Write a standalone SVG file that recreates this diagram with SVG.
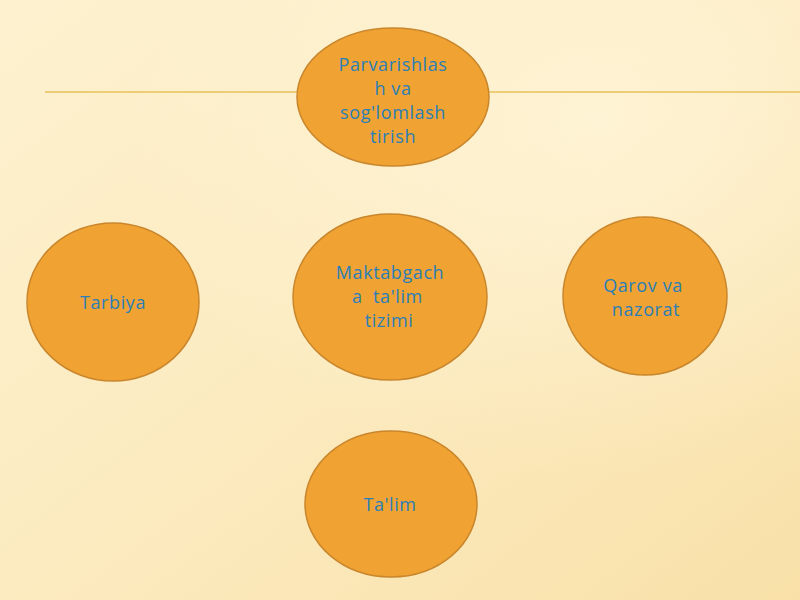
<svg xmlns="http://www.w3.org/2000/svg" width="800" height="600" viewBox="0 0 800 600">
<defs>
<linearGradient id="bg" x1="0" y1="0" x2="1" y2="1">
<stop offset="0" stop-color="#FDF1CF"/>
<stop offset="0.5" stop-color="#FCEBC0"/>
<stop offset="1" stop-color="#F8E0A8"/>
</linearGradient>
<radialGradient id="glow" cx="0.75" cy="0.2" r="0.6">
<stop offset="0" stop-color="#FFF6DC" stop-opacity="0.7"/>
<stop offset="1" stop-color="#FFF6DC" stop-opacity="0"/>
</radialGradient>
</defs>
<style>
.node ellipse{fill:#F0A232;stroke:#C9862C;stroke-width:1.5}
.node text{font-family:"Open Sans","Noto Sans",sans-serif;font-size:18px;letter-spacing:0.6px;fill:#2A7FB8;text-anchor:middle}
</style>
<rect width="800" height="600" fill="url(#bg)"/>
<rect width="800" height="600" fill="url(#glow)"/>
<g id="connectors">
<line x1="45" y1="92" x2="800" y2="92" stroke="#E6C25A" stroke-width="1.5"/>
</g>
<g id="node-top" class="node">
<ellipse cx="393" cy="97" rx="96" ry="69"/>
<text x="393" y="71">Parvarishlas</text>
<text x="393" y="95">h va</text>
<text x="393" y="119">sog'lomlash</text>
<text x="393" y="143">tirish</text>
</g>
<g id="node-center" class="node">
<ellipse cx="390" cy="297" rx="97" ry="83"/>
<text x="390" y="279">Maktabgach</text>
<text x="390" y="303" xml:space="preserve">a  ta'lim </text>
<text x="389" y="327">tizimi</text>
</g>
<g id="node-left" class="node">
<ellipse cx="113" cy="302" rx="86" ry="79"/>
<text x="113" y="309">Tarbiya</text>
</g>
<g id="node-right" class="node">
<ellipse cx="645" cy="296" rx="82" ry="79"/>
<text x="643" y="292">Qarov va</text>
<text x="646" y="316">nazorat</text>
</g>
<g id="node-bottom" class="node">
<ellipse cx="391" cy="504" rx="86" ry="73"/>
<text x="390" y="511">Ta'lim</text>
</g>
</svg>
